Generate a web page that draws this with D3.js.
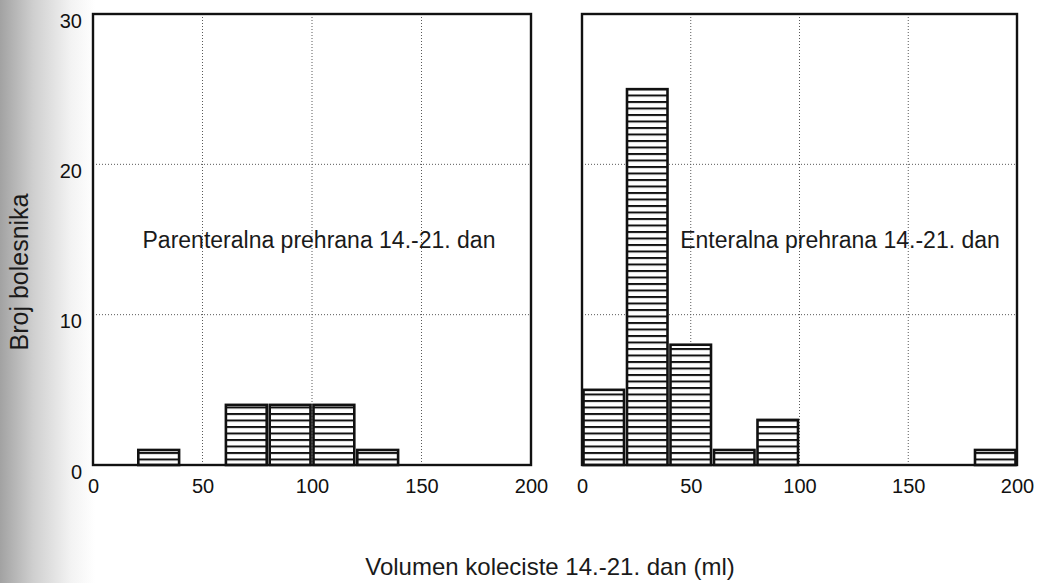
<!DOCTYPE html>
<html>
<head>
<meta charset="utf-8">
<script src="https://cdn.jsdelivr.net/npm/d3@7/dist/d3.min.js"></script>
<style>
  html, body { margin: 0; padding: 0; background: #fff; }
  svg { display: block; font-family: "Liberation Sans", Arial, sans-serif; }
</style>
</head>
<body>
<svg id="chart" width="1037" height="583"></svg>
<script>
// ---- data ----
const binStarts = [0, 20, 40, 60, 80, 100, 120, 140, 160, 180];
const binWidth = 20;
const parenteralCounts = [0, 1, 0, 4, 4, 4, 1, 0, 0, 0];
const enteralCounts = [5, 25, 8, 1, 3, 0, 0, 0, 0, 1];
const xTickValues = [0, 50, 100, 150, 200];
const yTickValues = [0, 10, 20, 30];
const panelLabels = ["Parenteralna prehrana 14.-21. dan", "Enteralna prehrana 14.-21. dan"];
const xTitle = "Volumen koleciste 14.-21. dan (ml)";
const yTitle = "Broj bolesnika";

// ---- layout ----
const svg = d3.select("#chart");
const W = 1037, H = 583;
const plotTop = 14, plotBottom = 465;
const panels = [
  { counts: parenteralCounts, x0: 93, x1: 531, label: panelLabels[0], labelX: 319, showY: true },
  { counts: enteralCounts, x0: 582, x1: 1017, label: panelLabels[1], labelX: 840, showY: false }
];

const defs = svg.append("defs");
// scan shading on left edge
const grad = defs.append("linearGradient").attr("id", "scan").attr("x1", "0").attr("x2", "1").attr("y1", "0").attr("y2", "0");
grad.append("stop").attr("offset", "0").attr("stop-color", "#a2a2a2");
grad.append("stop").attr("offset", "0.35").attr("stop-color", "#cfcfcf");
grad.append("stop").attr("offset", "0.75").attr("stop-color", "#f3f3f3");
grad.append("stop").attr("offset", "1").attr("stop-color", "#ffffff");
svg.append("rect").attr("x", 0).attr("y", 0).attr("width", 95).attr("height", H).attr("fill", "url(#scan)");

// horizontal hatch pattern
const period = 6.5;
const pat = defs.append("pattern").attr("id", "hatch")
  .attr("patternUnits", "userSpaceOnUse")
  .attr("width", 10).attr("height", period)
  .attr("y", plotBottom % period);
pat.append("rect").attr("width", 10).attr("height", period).attr("fill", "#fff");
pat.append("line").attr("x1", 0).attr("x2", 10).attr("y1", 1).attr("y2", 1)
  .attr("stroke", "#111").attr("stroke-width", 2);

const y = d3.scaleLinear().domain([0, 30]).range([plotBottom, plotTop]);

panels.forEach(p => {
  const x = d3.scaleLinear().domain([0, 200]).range([p.x0, p.x1]);
  const g = svg.append("g");

  // white plot background
  g.append("rect").attr("x", p.x0).attr("y", plotTop).attr("width", p.x1 - p.x0).attr("height", plotBottom - plotTop).attr("fill", "#fff");

  // grid
  g.selectAll(".vg").data(xTickValues.filter(v => v > 0 && v < 200)).join("line")
    .attr("x1", d => x(d)).attr("x2", d => x(d)).attr("y1", plotTop).attr("y2", plotBottom)
    .attr("stroke", "#5a5a5a").attr("stroke-width", 1).attr("stroke-dasharray", "1,2");
  g.selectAll(".hg").data(yTickValues.filter(v => v > 0 && v < 30)).join("line")
    .attr("x1", p.x0).attr("x2", p.x1).attr("y1", d => y(d)).attr("y2", d => y(d))
    .attr("stroke", "#5a5a5a").attr("stroke-width", 1).attr("stroke-dasharray", "1,2");

  // bars
  const bars = binStarts.map((s, i) => ({ s, c: p.counts[i] })).filter(d => d.c > 0);
  g.selectAll(".bar").data(bars).join("rect")
    .attr("x", d => x(d.s) + 1.5)
    .attr("width", d => x(d.s + binWidth) - x(d.s) - 3)
    .attr("y", d => y(d.c))
    .attr("height", d => y(0) - y(d.c))
    .attr("fill", "url(#hatch)")
    .attr("stroke", "#111").attr("stroke-width", 2.6);

  // frame
  g.append("rect").attr("x", p.x0).attr("y", plotTop).attr("width", p.x1 - p.x0).attr("height", plotBottom - plotTop)
    .attr("fill", "none").attr("stroke", "#111").attr("stroke-width", 2.4);

  // x axis labels
  const xa = svg.append("g").attr("transform", `translate(0,${plotBottom})`)
    .call(d3.axisBottom(x).tickValues(xTickValues).tickFormat(d3.format("d")).tickSize(0).tickPadding(14));
  xa.select(".domain").remove();
  xa.selectAll("text").attr("font-size", 20).attr("font-family", "'Liberation Sans', Arial, sans-serif").attr("fill", "#111");

  if (p.showY) {
    const ya = svg.append("g").attr("transform", `translate(${p.x0},0)`)
      .call(d3.axisLeft(y).tickValues(yTickValues).tickFormat(d3.format("d")).tickSize(0).tickPadding(11));
    ya.select(".domain").remove();
    ya.selectAll("text").attr("font-size", 20).attr("dy", 13).attr("font-family", "'Liberation Sans', Arial, sans-serif").attr("fill", "#111");
  }

  // panel annotation
  svg.append("text").attr("x", p.labelX).attr("y", 248).attr("text-anchor", "middle")
    .attr("font-size", 23).attr("fill", "#1a1a1a").text(p.label);
});

// axis titles
svg.append("text").attr("x", 550).attr("y", 575).attr("text-anchor", "middle")
  .attr("font-size", 24).attr("fill", "#1a1a1a").text(xTitle);
svg.append("text").attr("transform", "translate(28,272) rotate(-90)").attr("text-anchor", "middle")
  .attr("font-size", 25).attr("fill", "#1a1a1a").text(yTitle);
</script>
</body>
</html>
